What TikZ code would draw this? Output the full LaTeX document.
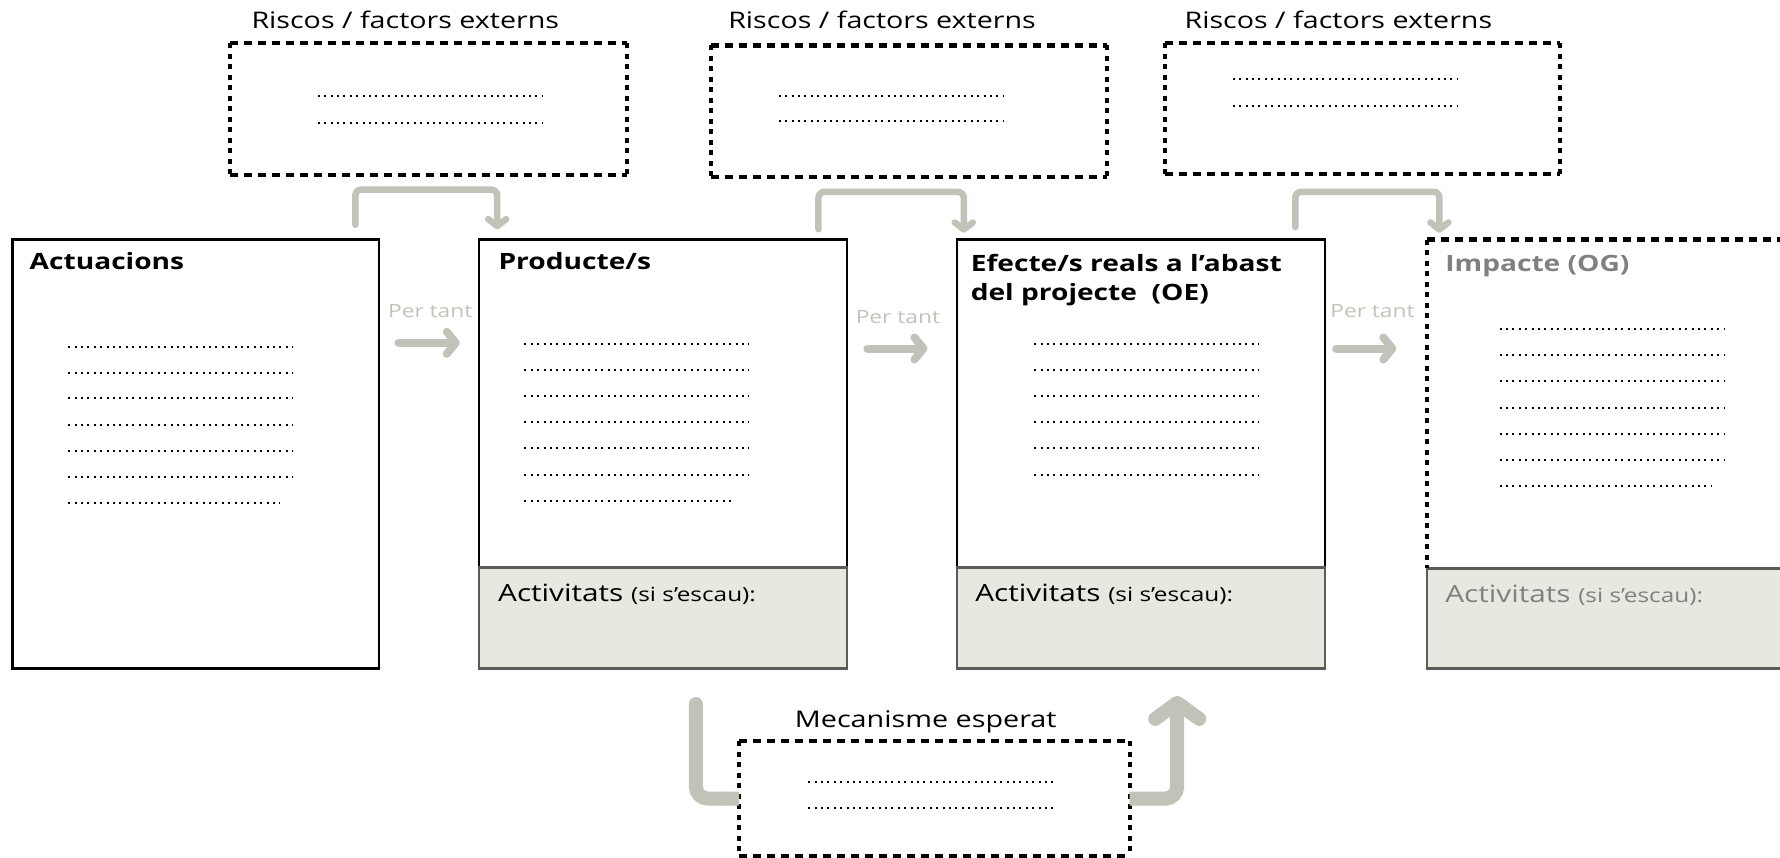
\documentclass[tikz,border=0pt]{standalone}
\usepackage{fontspec}
\setmainfont{Open Sans}[FakeStretch=1.25]
\usetikzlibrary{arrows.meta,fit,calc}
\definecolor{arrgray}{HTML}{C2C2B9}
\definecolor{bandfill}{HTML}{E9E8E0}
\definecolor{bandedge}{HTML}{5C5C57}
\definecolor{impgray}{HTML}{808080}
\newcommand\sesc{\fontsize{19.5}{22}\selectfont}
\begin{document}
\begin{tikzpicture}[x=1.1352pt, y=-1.1352pt,
  area/.style={inner sep=0pt, outer sep=0pt},
  frame/.style={area, draw=black, line width=2.6pt},
  bandbox/.style={area, draw=bandedge, fill=bandfill, line width=2.6pt},
  hdash/.style={line width=4.2pt, dash pattern=on 8pt off 6pt},
  vdash/.style={line width=4pt, dash pattern=on 5pt off 5.5pt},
  dotline/.style={line width=2pt, dash pattern=on 2pt off 4.4pt},
  head/.style={anchor=base west, inner sep=0pt, font=\fontsize{22.5}{25}\selectfont\bfseries},
  acttxt/.style={anchor=base west, inner sep=0pt, font=\fontsize{23.8}{26}\selectfont},
  title/.style={anchor=base, inner sep=0pt, font=\fontsize{22.9}{25}\selectfont},
  pertant/.style={inner sep=0pt, text=arrgray, font=\fontsize{18.2}{20}\selectfont},
  bracket/.style={draw=arrgray, line width=6.5pt, rounded corners=6pt, line cap=round,
     -{Straight Barb[length=7pt, width=18pt, round]}},
  fwd/.style={draw=arrgray, line width=8pt, line cap=round,
     -{Straight Barb[length=9pt, width=22pt, round]}},
  bigconn/.style={draw=arrgray, line width=14pt, rounded corners=12pt}
]
\useasboundingbox (0,0) rectangle (1568,755.8);
\clip (0,0) rectangle (1568,755.8);

% ---- main boxes
\node[frame, fit={(11,211)(334,589)}] (act) {};
\node[frame, fit={(422,211)(746,500)}] (prod) {};
\node[bandbox, fit={(422,500)(746,589)}] (prodact) {};
\node[frame, fit={(843,211)(1167,500)}] (eff) {};
\node[bandbox, fit={(843,500)(1167,589)}] (effact) {};
\node[area, fit={(1257,211)(1620,500)}] (imp) {};
\node[bandbox, fit={(1257,501)(1620,589)}] (impact) {};
\draw[hdash] (imp.north west) -- (imp.north east);
\draw[vdash] (imp.north west) -- (imp.south west);

% ---- top risk boxes and mechanism box
\node[area, fit={(203,38)(552,154)}] (r1) {};
\node[area, fit={(626,40)(975,156)}] (r2) {};
\node[area, fit={(1026,38)(1374,153)}] (r3) {};
\node[area, fit={(651,653)(995,754)}] (mech) {};
\foreach \b in {r1,r2,r3,mech}{
  \draw[hdash] (\b.north west) -- (\b.north east);
  \draw[hdash] (\b.south west) -- (\b.south east);
  \draw[vdash] (\b.north west) -- (\b.south west);
  \draw[vdash] (\b.north east) -- (\b.south east);
}

% ---- titles
\node[title] (t1) at (357,25) {Riscos / factors externs};
\node[title] (t2) at (777,25) {Riscos / factors externs};
\node[title] (t3) at (1179,25) {Riscos / factors externs};
\node[title, font=\fontsize{23}{25}\selectfont] (tm) at (815.5,641) {Mecanisme esperat};

% ---- headings
\node[head] (hact) at (26,237) {Actuacions};
\node[head] (hprod) at (439,237) {Producte/s};
\node[head] (heff1) at (855,239) {Efecte/s reals a l’abast};
\node[head] (heff2) at (855,265) {del projecte\ \ (OE)};
\node[head, text=impgray] (himp) at (1273,239) {Impacte (OG)};

\node[acttxt] (a1) at (438.7,530) {Activitats {\sesc(si s’escau):}};
\node[acttxt] (a2) at (859,530) {Activitats {\sesc(si s’escau):}};
\node[acttxt, text=impgray] (a3) at (1273,531) {Activitats {\sesc(si s’escau):}};

% ---- dotted lines
\foreach \y in {306,329,351,374,397,420} \draw[dotline] (60,\y) -- (258,\y);
\draw[dotline] (60,443) -- (247,443);
\foreach \y in {303,326,349,372,395,418} \draw[dotline] (462,\y) -- (660,\y);
\draw[dotline] (462,441) -- (648,441);
\foreach \y in {303,326,349,372,395,418} \draw[dotline] (911,\y) -- (1109,\y);
\foreach \y in {290,313,336,359,382,405} \draw[dotline] (1321,\y) -- (1519,\y);
\draw[dotline] (1321,428) -- (1508,428);
\foreach \y in {85,108} \draw[dotline] (280,\y) -- (478,\y);
\foreach \y in {85,107} \draw[dotline] (686,\y) -- (884,\y);
\foreach \y in {70,93} \draw[dotline] (1086,\y) -- (1284,\y);
\foreach \y in {689,712} \draw[dotline] (712,\y) -- (928,\y);

% ---- top brackets
\draw[bracket] ($(act.north east)+(-21,-13)$) -- ++(0,-31) -| ($(prod.north west)+(16,-9)$);
\draw[bracket] ($(prod.north east)+(-25,-9)$) -- ++(0,-33) -| ($(eff.north west)+(6,-6)$);
\draw[bracket] ($(eff.north east)+(-26,-11)$) -- ++(0,-31) -| ($(imp.north west)+(11,-6)$);

% ---- per tant arrows
\draw[fwd] ($(act.north east)+(17,91)$) -- ($(prod.north west)+(-17,91)$);
\draw[fwd] ($(prod.north east)+(18,96)$) -- ($(eff.north west)+(-26,96)$);
\draw[fwd] ($(eff.north east)+(10,96)$) -- ($(imp.north west)+(-27,96)$);
\node[pertant] (p1) at (379,274) {Per tant};
\node[pertant] (p2) at (791,279) {Per tant};
\node[pertant] (p3) at (1209,274) {Per tant};

% ---- mechanism connectors
\draw[bigconn, {Round Cap[]}-{Butt Cap[]}] ($(prodact.south west)+(191,25)$) |- (mech.west);
\draw[bigconn, -{Straight Barb[length=16pt, width=44pt, round]}] (mech.east) -| ($(effact.south west)+(194,24)$);
\end{tikzpicture}
\end{document}
